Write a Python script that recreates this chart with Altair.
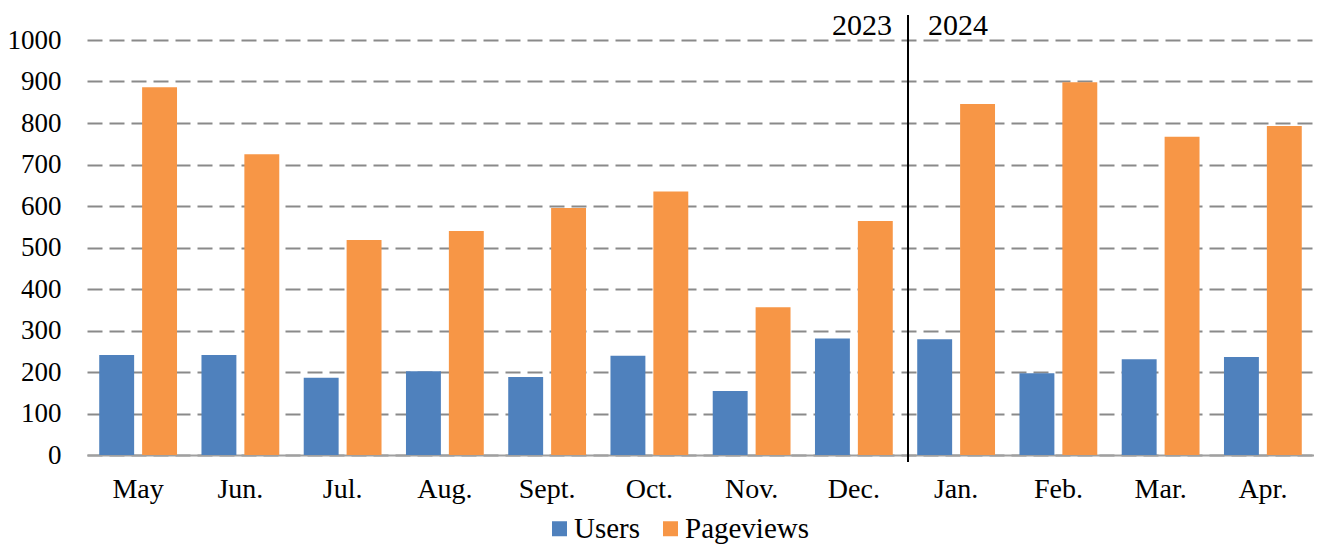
import altair as alt
import pandas as pd

months = ["May", "Jun.", "Jul.", "Aug.", "Sept.", "Oct.", "Nov.", "Dec.",
          "Jan.", "Feb.", "Mar.", "Apr."]
users = [241, 241, 186, 202, 188, 239, 154, 281, 279, 197, 231, 236]
pageviews = [886, 725, 518, 540, 595, 635, 356, 564, 846, 898, 767, 793]
series = ["Users", "Pageviews"]
colors = ["#4F81BD", "#F79646"]
years = ["2023", "2024"]
y_ticks = [0, 100, 200, 300, 400, 500, 600, 700, 800, 900, 1000]

rows = []
for m, u, p in zip(months, users, pageviews):
    rows.append({"month": m, "series": "Users", "value": u})
    rows.append({"month": m, "series": "Pageviews", "value": p})
df = pd.DataFrame(rows)

FONT = "Liberation Serif"

xscale = alt.Scale(domain=months, paddingInner=0, paddingOuter=0)
yscale = alt.Scale(domain=[0, 1000], nice=False)

bars = alt.Chart(df).mark_bar().encode(
    x=alt.X("month:N", scale=xscale, sort=months,
            axis=alt.Axis(title=None, labelAngle=0, ticks=False,
                          domainColor="#a0a0a0", domainWidth=2,
                          labelFont=FONT, labelFontSize=28, labelColor="black",
                          labelPadding=20, grid=False)),
    xOffset=alt.XOffset("series:N", sort=series,
                        scale=alt.Scale(domain=series, paddingInner=0.186, paddingOuter=0.285)),
    y=alt.Y("value:Q", scale=yscale,
            axis=alt.Axis(title=None, values=y_ticks, format="d", ticks=False, domain=False,
                          labelFont=FONT, labelFontSize=27, labelColor="black",
                          labelPadding=26, grid=True, gridDash=[15, 7],
                          gridColor="#8a8a8a", gridWidth=2)),
    color=alt.Color("series:N", sort=series,
                    scale=alt.Scale(domain=series, range=colors),
                    legend=alt.Legend(title=None, orient="none", direction="horizontal",
                                      legendX=458, legendY=474, padding=0,
                                      symbolType="square", symbolSize=225,
                                      symbolStrokeWidth=0, labelFont=FONT,
                                      labelFontSize=29, labelColor="black",
                                      columnPadding=15, labelOffset=0)),
)

div_df = pd.DataFrame({"month": ["Jan."], "top": [1060], "bottom": [-17]})
rule = alt.Chart(div_df).mark_rule(color="black", strokeWidth=2, xOffset=3).encode(
    x=alt.X("month:N", bandPosition=0, scale=xscale, sort=months),
    y=alt.Y("top:Q", scale=yscale),
    y2=alt.Y2("bottom:Q"),
)

yr_df = pd.DataFrame({"month": ["Jan.", "Jan."], "label": years, "pos": [1012, 1012]})
yr_left = alt.Chart(yr_df.iloc[[0]]).mark_text(
    align="right", baseline="alphabetic", dx=-13, font=FONT, fontSize=30, color="black"
).encode(
    x=alt.X("month:N", bandPosition=0, scale=xscale, sort=months),
    y=alt.Y("pos:Q", scale=yscale),
    text="label:N",
)
yr_right = alt.Chart(yr_df.iloc[[1]]).mark_text(
    align="left", baseline="alphabetic", dx=23, font=FONT, fontSize=30, color="black"
).encode(
    x=alt.X("month:N", bandPosition=0, scale=xscale, sort=months),
    y=alt.Y("pos:Q", scale=yscale),
    text="label:N",
)

chart = alt.layer(bars, rule, yr_left, yr_right).properties(
    width=1227, height=415,
    autosize=alt.AutoSizeParams(type="none"),
    padding={"left": 79, "top": 32, "right": 0, "bottom": 89},
).configure_view(stroke=None)

chart.save("out.html", embed_options={"renderer": "svg", "actions": False})
